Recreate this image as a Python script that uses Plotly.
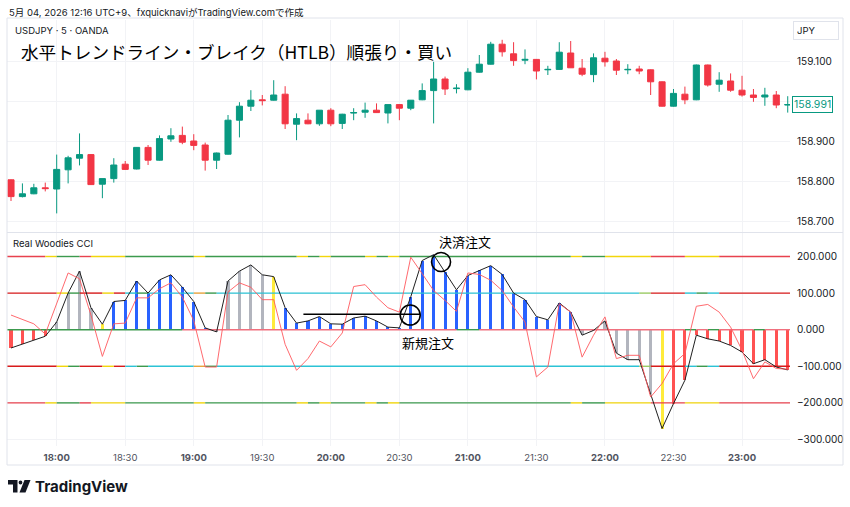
import plotly.graph_objects as go

W, H = 850, 507

# ---------------- data ----------------
bars = list(range(69))
opens = [158.803, 158.761, 158.768, 158.783, 158.780, 158.828, 158.857, 158.866, 158.792, 158.806,
         158.842, 158.830, 158.884, 158.852, 158.905, 158.914, 158.900, 158.890, 158.852, 158.867,
         158.952, 158.987, 159.003, 159.002, 159.017, 158.942, 158.952, 158.943, 158.977, 158.944,
         158.970, 158.972, 158.977, 158.970, 158.991, 158.982, 159.003, 159.026, 159.055, 159.031,
         159.028, 159.072, 159.092, 159.142, 159.118, 159.102, 159.104, 159.078, 159.079, 159.120,
         159.082, 159.066, 159.107, 159.100, 159.078, 159.080, 159.078, 159.048, 158.987, 159.017,
         159.003, 159.090, 159.042, 159.050, 159.027, 159.015, 159.010, 159.015, 158.990]
highs = [158.804, 158.794, 158.793, 158.796, 158.866, 158.863, 158.919, 158.867, 158.806, 158.857,
         158.850, 158.885, 158.890, 158.914, 158.932, 158.936, 158.917, 158.896, 158.871, 158.965,
         158.997, 159.027, 159.015, 159.052, 159.037, 158.969, 158.969, 158.977, 158.982, 158.968,
         158.982, 158.996, 158.994, 158.991, 158.992, 159.002, 159.044, 159.098, 159.061, 159.042,
         159.082, 159.115, 159.148, 159.153, 159.147, 159.129, 159.105, 159.088, 159.147, 159.150,
         159.105, 159.119, 159.123, 159.105, 159.092, 159.088, 159.079, 159.049, 159.030, 159.036,
         159.091, 159.091, 159.072, 159.069, 159.063, 159.030, 159.033, 159.025, 159.012]
lows = [158.750, 158.759, 158.767, 158.774, 158.719, 158.794, 158.839, 158.790, 158.757, 158.796,
        158.828, 158.829, 158.840, 158.851, 158.898, 158.892, 158.877, 158.826, 158.830, 158.866,
        158.909, 158.975, 158.989, 159.001, 158.930, 158.902, 158.942, 158.938, 158.937, 158.930,
        158.952, 158.958, 158.970, 158.944, 158.952, 158.977, 159.002, 158.944, 159.015, 159.019,
        159.027, 159.071, 159.091, 159.111, 159.088, 159.092, 159.054, 159.065, 159.078, 159.083,
        159.062, 159.047, 159.086, 159.065, 159.067, 159.067, 159.015, 158.986, 158.986, 158.992,
        159.002, 159.036, 159.023, 159.023, 159.011, 158.998, 158.988, 158.982, 158.971]
closes = [158.761, 158.768, 158.783, 158.781, 158.829, 158.858, 158.866, 158.791, 158.806, 158.840,
          158.829, 158.884, 158.852, 158.906, 158.913, 158.897, 158.889, 158.852, 158.870, 158.952,
          158.987, 159.002, 159.001, 159.015, 158.943, 158.956, 158.943, 158.977, 158.943, 158.967,
          158.971, 158.977, 158.971, 158.991, 158.982, 159.002, 159.026, 159.055, 159.030, 159.032,
          159.072, 159.092, 159.142, 159.123, 159.101, 159.104, 159.075, 159.079, 159.122, 159.083,
          159.067, 159.108, 159.098, 159.077, 159.079, 159.075, 159.048, 158.987, 159.019, 159.003,
          159.090, 159.040, 159.052, 159.027, 159.015, 159.009, 159.015, 158.990, 158.991]

cci = [-50, -40, -29, -18, 21, 100, 160, 60, 15, 77,
       80, 133, 100, 136, 150, 116, 77, 5, -6, 133,
       160, 177, 150, 145, 60, 18, 24, 36, 16, 15,
       32, 37, 24, 7, 5, 90, 189, 205, 157, 109,
       148, 162, 175, 151, 100, 82, 36, 27, 73, 48,
       -15, -2, 24, -64, -82, -82, -175, -270, -202, -138,
       -15, -25, -31, -43, -61, -93, -82, -102, -110]
turbo = [40, 27, 16, -12, 73, 155, 139, 40, -73, 16,
         18, 87, 87, 112, 128, 89, 25, -102, -102, 103,
         128, 116, 82, 82, -40, -111, -79, -31, -47, -9,
         118, 123, 89, 60, 48, 198, 153, 107, 80, 50,
         155, 151, 135, 107, 62, 21, -129, -102, 71, 48,
         -75, -15, 35, -79, -70, -70, -184, -147, -93, -65,
         64, 69, 48, 7, -56, -134, -88, -106, -108]
hist_state = (['R'] * 4 + ['N'] * 4 + ['Y'] + ['B'] * 9 + ['N'] * 5 + ['Y'] +
              ['B'] * 26 + ['N'] * 7 + ['Y'] + ['R'] * 11)

time_ticks = [4, 10, 16, 22, 28, 34, 40, 46, 52, 58, 64]
time_labels = ["18:00", "18:30", "19:00", "19:30", "20:00", "20:30",
               "21:00", "21:30", "22:00", "22:30", "23:00"]
price_ticks = [158.7, 158.8, 158.9, 159.0, 159.1]
price_labels = ["158.700", "158.800", "158.900", "", "159.100"]
cci_ticks = [200, 100, 0, -100, -200, -300]
cci_labels = ["200.000", "100.000", "0.000", "\u2212100.000", "\u2212200.000", "\u2212300.000"]
last_price = 158.991

# level line colour segments (bar index ranges)
lvl200_segs = [(-0.5, 3, 'red'), (3, 4, 'yel'), (4, 6, 'grn'), (6, 7, 'red'), (7, 10, 'yel'),
               (10, 16, 'grn'), (16, 17, 'yel'), (17, 25, 'grn'), (25, 26, 'yel'), (26, 27, 'grn'),
               (27, 28, 'yel'), (28, 31, 'grn'), (31, 32, 'yel'), (32, 33, 'grn'), (33, 34, 'yel'),
               (34, 49, 'grn'), (49, 50, 'yel'), (50, 52, 'grn'), (52, 56, 'yel'), (56, 59, 'red'),
               (59, 62, 'yel'), (62, 68.6, 'red')]
lvl100_segs = [(-0.5, 4, 'red2'), (4, 5, 'yel'), (5, 6, 'grn'), (6, 8, 'red2'), (8, 9, 'yel'),
               (9, 10, 'red2'), (10, 11, 'cyan'), (11, 12, 'grn'), (12, 16, 'cyan'), (16, 17, 'org'),
               (17, 18, 'grn'), (18, 55, 'cyan'), (55, 56, 'lime'), (56, 59, 'red2'), (59, 60, 'cyan'),
               (60, 61, 'grn'), (61, 62, 'cyan'), (62, 68.6, 'red2')]
lvl0_segs = [(-0.5, 15, 'grn'), (15, 39, 'pink'), (39, 41, 'grn'), (41, 59, 'pink'), (59, 60, 'grn'),
             (60, 61, 'pink'), (61, 62, 'grn'), (62, 65, 'pink'), (65, 66, 'grn'), (66, 68.6, 'pink')]

# ---------------- styles ----------------
UP, DN = "#089981", "#F23645"
HIST_COL = {'R': '#FF5252', 'N': '#B2B5BE', 'Y': '#FFEB3B', 'B': '#2962FF'}
LVL_COL = {'red': '#E8424E', 'red2': '#D81B1B', 'yel': '#F2D60C', 'grn': '#3C9A4E',
           'cyan': '#2CC3D5', 'org': '#E8A33D', 'lime': '#9CCC65', 'pink': '#F0707E'}
TXT = "#131722"
FONT = "Inter, Roboto, 'Noto Sans CJK JP', sans-serif"
JFONT = "'Noto Sans CJK JP', sans-serif"

def px(x):
    return x / W

def py(y):
    return 1 - y / H

fig = go.Figure()

fig.add_trace(go.Candlestick(
    x=bars, open=opens, high=highs, low=lows, close=closes,
    xaxis='x', yaxis='y', whiskerwidth=0,
    increasing=dict(line=dict(color=UP, width=1), fillcolor=UP),
    decreasing=dict(line=dict(color=DN, width=1), fillcolor=DN),
    showlegend=False, hoverinfo='skip'))

fig.add_trace(go.Bar(
    x=bars, y=cci, width=0.27, xaxis='x2', yaxis='y2',
    marker=dict(color=[HIST_COL[s] for s in hist_state], line=dict(width=0)),
    showlegend=False, hoverinfo='skip'))

for lvls, segs in (([200, -200], lvl200_segs), ([100, -100], lvl100_segs), ([0], lvl0_segs)):
    for lv in lvls:
        colors = {}
        for a, b, c in segs:
            colors.setdefault(c, ([], []))
            colors[c][0].extend([a, b, None])
            colors[c][1].extend([lv, lv, None])
        for c, (xs, ys) in colors.items():
            fig.add_trace(go.Scatter(x=xs, y=ys, mode='lines', xaxis='x2', yaxis='y2',
                                     line=dict(color=LVL_COL[c], width=1.4),
                                     showlegend=False, hoverinfo='skip'))

fig.add_trace(go.Scatter(x=bars, y=cci, mode='lines', xaxis='x2', yaxis='y2',
                         line=dict(color='#202020', width=1), showlegend=False, hoverinfo='skip'))
fig.add_trace(go.Scatter(x=bars, y=turbo, mode='lines', xaxis='x2', yaxis='y2',
                         line=dict(color='#FF5A5F', width=1), opacity=0.9,
                         showlegend=False, hoverinfo='skip'))

xdom = [px(7), px(790)]
xr = [-0.35, 68.2]
tick_text = [("<b>%s</b>" % t) if t.endswith(":00") else t for t in time_labels]

fig.update_layout(
    width=W, height=H, margin=dict(l=0, r=0, t=0, b=0),
    paper_bgcolor='white', plot_bgcolor='white',
    font=dict(family=FONT, color=TXT, size=10),
    boxgap=0.24, bargap=0,
    xaxis=dict(domain=xdom, range=xr, anchor='y', tickvals=time_ticks, showticklabels=False,
               showgrid=True, gridcolor='#F2F3F6', zeroline=False, showline=False, ticks='',
               rangeslider=dict(visible=False), fixedrange=True),
    xaxis2=dict(domain=xdom, range=xr, anchor='y2', tickvals=time_ticks, ticktext=tick_text,
                showgrid=True, gridcolor='#F2F3F6', zeroline=False, showline=False, ticks='',
                tickfont=dict(size=9.5, color='#50535E'), ticklabelstandoff=4, fixedrange=True),
    yaxis=dict(domain=[py(232), py(20)], range=[158.6725, 159.2025], anchor='x', side='right',
               tickvals=price_ticks, ticktext=price_labels, showgrid=True, gridcolor='#F2F3F6',
               zeroline=False, showline=False, ticks='', tickfont=dict(size=10, color=TXT),
               ticklabelstandoff=6, fixedrange=True),
    yaxis2=dict(domain=[py(446), py(233)], range=[-317.8, 264.2], anchor='x2', side='right',
                tickvals=cci_ticks, ticktext=cci_labels, showgrid=True, gridcolor='#F2F3F6',
                zeroline=False, showline=False, ticks='', tickfont=dict(size=10, color=TXT),
                ticklabelstandoff=6, fixedrange=True),
)

shapes = [
    dict(type='rect', xref='paper', yref='paper', x0=px(7), x1=px(843), y0=py(465), y1=py(18),
         line=dict(color='#E0E3EB', width=1)),
    dict(type='line', xref='paper', yref='paper', x0=px(7), x1=px(843), y0=py(232.5), y1=py(232.5),
         line=dict(color='#E0E3EB', width=1)),
    # entry / exit marks on CCI pane
    dict(type='line', xref='x2', yref='y2', x0=25.6, x1=35.8, y0=42, y1=42,
         line=dict(color='black', width=1.6)),
    dict(type='circle', xref='x2', yref='y2', xsizemode='pixel', ysizemode='pixel',
         xanchor=34.95, yanchor=40, x0=-10, x1=10, y0=-10, y1=10,
         line=dict(color='black', width=1.6)),
    dict(type='circle', xref='x2', yref='y2', xsizemode='pixel', ysizemode='pixel',
         xanchor=37.65, yanchor=185, x0=-9.5, x1=9.5, y0=-9.5, y1=9.5,
         line=dict(color='black', width=1.6)),
]

# TradingView logo (approximate)
def path(pts):
    return "M " + " L ".join("%f,%f" % (px(x), py(y)) for x, y in pts) + " Z"

shapes.append(dict(type='path', xref='paper', yref='paper',
                   path=path([(8, 480), (17.5, 480), (17.5, 492.5), (13, 492.5), (13, 484.5), (8, 484.5)]),
                   fillcolor=TXT, line=dict(width=0)))
shapes.append(dict(type='circle', xref='paper', yref='paper', x0=px(18.6), x1=px(22.4),
                   y0=py(484.4), y1=py(480.6), fillcolor=TXT, line=dict(width=0)))
shapes.append(dict(type='path', xref='paper', yref='paper',
                   path=path([(24.5, 480), (30.5, 480), (25.5, 492.5), (19.5, 492.5)]),
                   fillcolor=TXT, line=dict(width=0)))
fig.update_layout(shapes=shapes)

ann = [
    dict(x=px(7), y=py(12), text="5月 04, 2026 12:16 UTC+9、fxquicknaviがTradingView.comで作成",
         font=dict(size=9.5, color=TXT, family=FONT)),
    dict(x=px(12.5), y=py(31), text="USDJPY · 5 · OANDA", font=dict(size=9.5, color=TXT, family=FONT)),
    dict(x=px(19), y=py(52), text="水平トレンドライン・ブレイク（HTLB）順張り・買い",
         font=dict(size=17.6, color='black', family=JFONT)),
    dict(x=px(11), y=py(243), text="Real Woodies CCI", font=dict(size=9.5, color=TXT, family=FONT)),
    dict(x=px(437), y=py(241), text="決済注文", font=dict(size=13, color='black', family=JFONT)),
    dict(x=px(400), y=py(342), text="新規注文", font=dict(size=13, color='black', family=JFONT)),
    dict(x=px(33), y=py(486.5), text="<b>TradingView</b>", font=dict(size=15, color=TXT, family=FONT)),
    dict(x=px(793), y=py(30.5), text="JPY", font=dict(size=9.5, color=TXT, family=FONT),
         bordercolor='#E0E3EB', borderwidth=1, borderpad=3, width=38, align='left', bgcolor='white'),
    dict(x=px(792), y=last_price, yref='y', text="158.991", font=dict(size=10.5, color=UP, family=FONT),
         bordercolor=UP, borderwidth=1, borderpad=1, bgcolor='white'),
]
for a in ann:
    a.setdefault('xref', 'paper')
    a.setdefault('yref', 'paper')
    a.update(xanchor='left', yanchor='middle', showarrow=False)
fig.update_layout(annotations=ann)

fig.write_html("out.html")
